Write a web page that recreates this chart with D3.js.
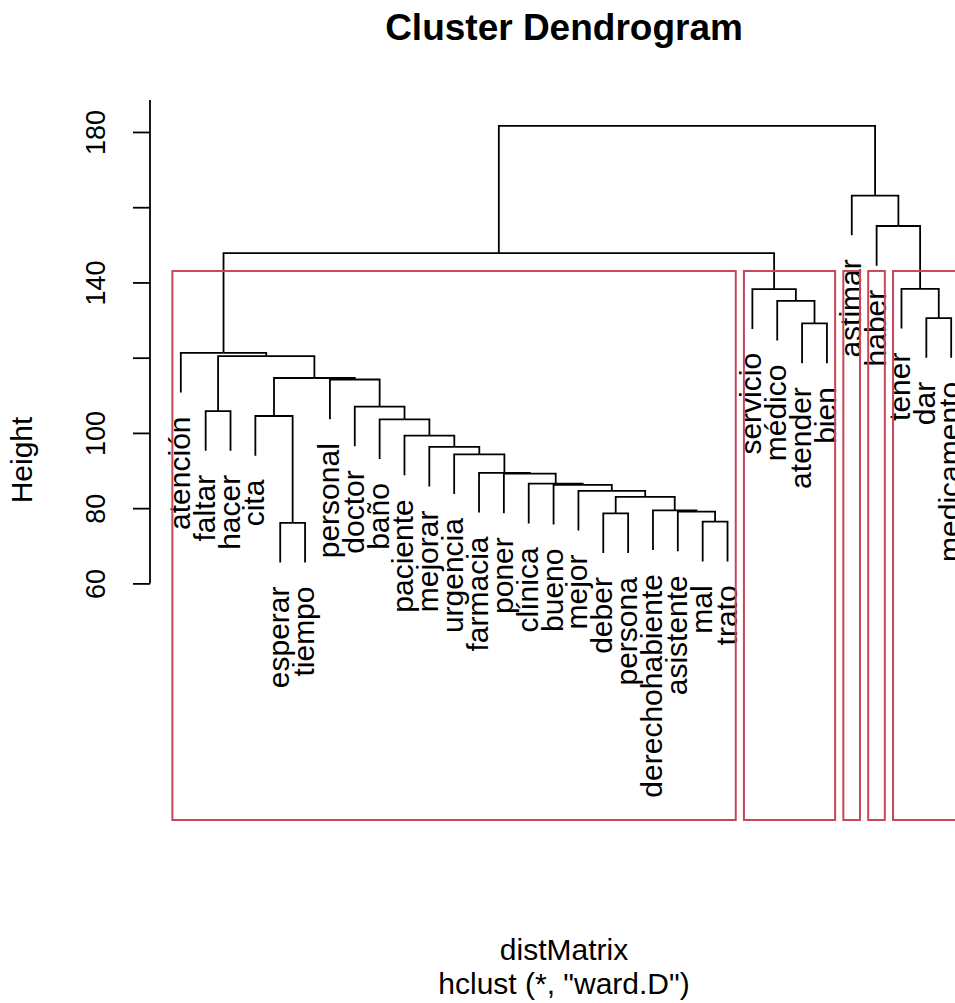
<!DOCTYPE html>
<html>
<head>
<meta charset="utf-8">
<script src="https://cdn.jsdelivr.net/npm/d3@7"></script>
<style>
  body { margin: 0; background: #fff; }
  text { font-family: "Liberation Sans", Arial, sans-serif; fill: #000; }
</style>
</head>
<body>
<div id="chart"></div>
<script>
// leaves in the order they are drawn
var leafLabels = ["atención", "faltar", "hacer", "cita", "esperar", "tiempo", "personal",
    "doctor", "baño", "paciente", "mejorar", "urgencia", "farmacia", "poner", "clínica",
    "bueno", "mejor", "deber", "persona", "derechohabiente", "asistente", "mal", "trato",
    "servicio", "médico", "atender", "bien", "astimar", "haber", "tener", "dar", "medicamento"];

// merge table like R's hclust: negative = leaf (1-based position), positive = earlier merge
var mergeLeft  = [-5, -22, -18, -21, -20, 3, -17, -16, -15, -14, -13, -12, -11, -10, -9, -4,
    -2, -8, -7, 16, 17, -1, -26, -31, -25, -24, -30, 22, -29, -28, 28];
var mergeRight = [-6, -23, -19, 2, 4, 5, 6, 7, 8, 9, 10, 11, 12, 13, 14, 1,
    -3, 15, 18, 19, 20, 21, -27, -32, 23, 25, 24, 26, 27, 29, 30];
var mergeHeights = [76.1, 76.4, 78.6, 79.1, 79.4, 83.0, 84.6, 86.2, 86.5, 89.2, 89.4, 94.3,
    96.3, 99.3, 103.6, 104.5, 105.8, 107.0, 114.2, 114.6, 120.4, 121.3, 129.1, 130.5,
    135.1, 138.2, 138.3, 147.8, 155.0, 163.1, 181.6];

var clusterSizes = [23, 4, 1, 1, 3];
var yTicks = [60, 80, 100, 120, 140, 160, 180];
var yTickLabels = ["60", "80", "100", "", "140", "", "180"];

var W = 955, H = 1003;
var svg = d3.select("#chart").append("svg")
    .attr("width", W).attr("height", H);
svg.append("rect").attr("width", W).attr("height", H).attr("fill", "#fff");

var n = leafLabels.length;
var x = d3.scaleLinear()
    .domain([1 - 0.04 * (n - 1), n + 0.04 * (n - 1)])
    .range([150, 982]);
var y = d3.scaleLinear()
    .domain([-2.9, 188.5])
    .range([820, 100]);

var hang = 0.1 * (d3.max(mergeHeights) - d3.min(mergeHeights));

// x position of each merge = midpoint of its two children
var mergeX = [];
function childX(c) { return c < 0 ? -c : mergeX[c - 1]; }
mergeHeights.forEach(function(h, i) {
    mergeX.push((childX(mergeLeft[i]) + childX(mergeRight[i])) / 2);
});

var leafTop = {};
var g = svg.append("g");

mergeHeights.forEach(function(h, i) {
    [mergeLeft[i], mergeRight[i]].forEach(function(c) {
        var cx = childX(c);
        var ch = c < 0 ? h - hang : mergeHeights[c - 1];
        if (c < 0) leafTop[-c] = ch;
        g.append("path")
            .attr("d", "M" + x(cx) + "," + y(ch) + "V" + y(h) + "H" + x(mergeX[i]))
            .attr("fill", "none")
            .attr("stroke", "#000")
            .attr("stroke-width", 1.8);
    });
});

// leaf labels, hanging below each leaf
leafLabels.forEach(function(lab, i) {
    var px = x(i + 1), py = y(leafTop[i + 1]) + 24;
    svg.append("text")
        .attr("transform", "translate(" + px + "," + py + ") rotate(-90)")
        .attr("text-anchor", "end")
        .attr("dy", "0.3em")
        .attr("font-size", "30px")
        .text(lab);
});

// cluster rectangles (rect.hclust, k = 5)
var k = clusterSizes.length;
var sortedH = mergeHeights.slice().sort(d3.ascending).reverse();
var rectTop = (sortedH[k - 2] + sortedH[k - 1]) / 2;
var cum = 0;
clusterSizes.forEach(function(s) {
    var x0 = x(cum + 0.66), x1 = x(cum + s + 0.33);
    svg.append("rect")
        .attr("x", x0).attr("y", y(rectTop))
        .attr("width", x1 - x0)
        .attr("height", y(y.domain()[0]) - y(rectTop))
        .attr("fill", "none")
        .attr("stroke", "#c8465a")
        .attr("stroke-width", 2);
    cum += s;
});

// y axis
var axisG = svg.append("g").attr("transform", "translate(150,0)");
axisG.call(d3.axisLeft(y).tickValues(yTicks).tickSize(17)
    .tickFormat(function(d, i) { return yTickLabels[i]; }));
axisG.select(".domain").remove();
axisG.selectAll(".tick line").attr("stroke", "#000").attr("stroke-width", 1.8);
axisG.selectAll(".tick text")
    .attr("transform", "rotate(-90)")
    .attr("x", 0).attr("y", -45).attr("dy", 0)
    .attr("text-anchor", "middle")
    .attr("font-size", "27px")
    .attr("font-family", "Liberation Sans, Arial, sans-serif")
    .attr("fill", "#000");
axisG.append("line")
    .attr("x1", 0).attr("x2", 0)
    .attr("y1", y(d3.min(yTicks))).attr("y2", y(y.domain()[1]))
    .attr("stroke", "#000").attr("stroke-width", 1.8);

// titles
svg.append("text")
    .attr("x", 564).attr("y", 40)
    .attr("text-anchor", "middle")
    .attr("font-size", "37px").attr("font-weight", "bold")
    .text("Cluster Dendrogram");

svg.append("text")
    .attr("transform", "translate(32,460) rotate(-90)")
    .attr("text-anchor", "middle")
    .attr("font-size", "30px")
    .text("Height");

svg.append("text")
    .attr("x", 564).attr("y", 960)
    .attr("text-anchor", "middle")
    .attr("font-size", "30px")
    .text("distMatrix");

svg.append("text")
    .attr("x", 564).attr("y", 994)
    .attr("text-anchor", "middle")
    .attr("font-size", "30px")
    .text("hclust (*, \"ward.D\")");
</script>
</body>
</html>
